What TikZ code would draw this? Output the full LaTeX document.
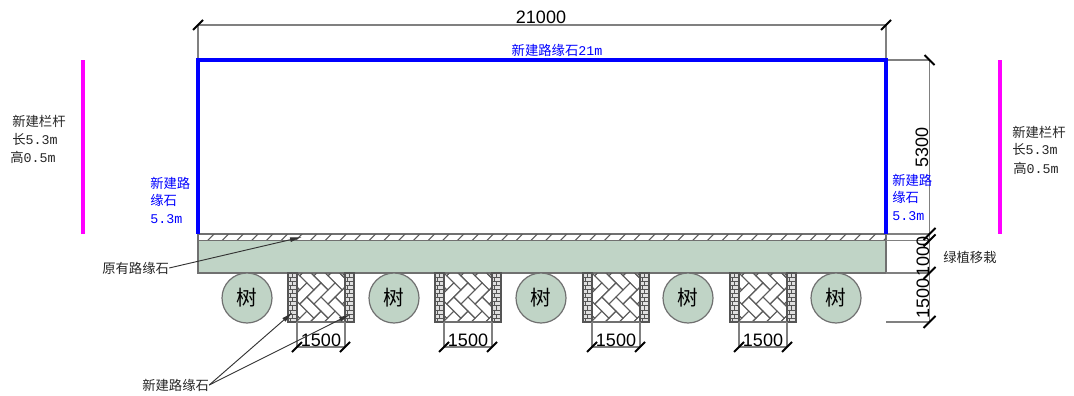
\documentclass[tikz,border=0pt]{standalone}
\usepackage{fontspec}
\setmainfont{Liberation Sans}
\newfontfamily\cjk{Noto Sans CJK SC}
\newfontfamily\lat{Liberation Mono}
\usetikzlibrary{arrows.meta,calc}
\definecolor{plant}{HTML}{C0D4C6}
\definecolor{edge}{HTML}{707070}
\definecolor{ext}{HTML}{808080}
\definecolor{brickc}{HTML}{555555}
\definecolor{railc}{HTML}{FF00FF}
\tikzset{
  x=0.75pt,y=-0.75pt,
  curb/.style={draw=blue,line width=3pt},
  railing/.style={draw=railc,line width=2.6pt},
  dimline/.style={draw=ext,line width=0.8pt},
  tickmark/.style={draw=black,line width=1.5pt},
  dimtext/.style={font=\fontsize{13.5}{14}\selectfont,inner sep=0pt},
  note/.style={font=\cjk\fontsize{10}{13}\selectfont,inner sep=0pt,align=left,text=black!85},
  bluenote/.style={note,text=blue},
  tree/.style={circle,draw=edge,fill=plant,line width=0.9pt,minimum size=37.5pt,inner sep=0pt,font=\cjk\fontsize{15.5}{17}\selectfont},
  leader/.style={draw=black!80,line width=0.7pt,-{Latex[length=9pt,width=3.6pt]}},
}
\newcommand{\paving}[2]{%
  \begin{scope}[shift={(#1,273)}]
    \begin{scope}
      \clip (9,0) rectangle (57,49);
      \begin{scope}[shift={(33,24)},rotate=45]
        \foreach \i in {-6,...,6}{\foreach \k in {-3,...,3}{
          \draw[ext!70!black,line width=0.7pt] ({(\i+4*\k)*10},{\i*10}) rectangle ++(20,10);
          \draw[ext!70!black,line width=0.7pt] ({(\i+4*\k+3)*10},{\i*10}) rectangle ++(10,20);
        }}
      \end{scope}
    \end{scope}
    \foreach \s in {0,57}{
      \begin{scope}[shift={(\s,0)}]
        \fill[black!12] (0,0) rectangle (9,49);
        \foreach \r in {0,...,11}{
          \draw[brickc,line width=0.55pt] (0,{\r*4.1}) -- (9,{\r*4.1});
          \pgfmathsetmacro{\vx}{mod(\r,2)==0 ? 4.5 : 2}
          \draw[brickc,line width=0.55pt] (\vx,{\r*4.1}) -- ++(0,4.1);
        }
        \draw[brickc,line width=0.9pt] (0,0) rectangle (9,49);
      \end{scope}
    }
    \draw[edge,line width=0.9pt] (9,49) -- (57,49);
    \node[inner sep=0pt,minimum size=0pt] (pave#2) at (33,24) {};
    \coordinate (dl#2) at (9,74);
    \coordinate (dr#2) at (57,74);
    \draw[dimline] (9,49) -- (dl#2);
    \draw[dimline] (57,49) -- (dr#2);
    \draw[dimline] (dl#2) -- (dr#2);
    \draw[tickmark] ($(dl#2)+(-5,5)$) -- ($(dl#2)+(5,-5)$);
    \draw[tickmark] ($(dr#2)+(-5,5)$) -- ($(dr#2)+(5,-5)$);
    \node[dimtext] (dimp#2) at (33,67.5) {1500};
  \end{scope}}
\begin{document}
\begin{tikzpicture}
\useasboundingbox (0,0) rectangle (1074,396);
% reference points
\coordinate (tl) at (198,60);
\coordinate (tr) at (886,60);
\coordinate (bl) at (198,234);
\coordinate (br) at (886,234);
\coordinate (dtl) at (198,25);
\coordinate (dtr) at (886,25);
\coordinate (r0) at (929.5,60);
\coordinate (r1) at (929.5,234);
\coordinate (r2) at (929.5,240.5);
\coordinate (r3) at (929.5,273);
\coordinate (r4) at (929.5,322);
% hatched strip and planting strip
\draw[edge,line width=0.9pt,fill=white] (198,234) rectangle (886,240.5);
\begin{scope}
  \clip (198,234) rectangle (886,240.5);
  \foreach \x in {0,...,47}{\draw[edge!80!black,line width=0.8pt] ({207+\x*14.7},241) -- ++(8,-8);}
\end{scope}
\draw[edge,line width=0.9pt,fill=plant] (198,240.5) rectangle (886,273);
% extension lines
\draw[dimline] (tl) -- (dtl);
\draw[dimline] (tr) -- (dtr);
\draw[dimline] (dtl) -- (dtr);
\draw[dimline] (tr) -- (r0);
\draw[dimline] (br) -- (r1);
\coordinate (e2) at (886,240.5);
\coordinate (e3) at (886,273);
\coordinate (e4) at (886,322);
\draw[dimline] (e2) -- (r2);
\draw[dimline] (e3) -- (r3);
\draw[dimline] (e4) -- (r4);
\draw[dimline] (r0) -- (r4);
% ticks
\foreach \c in {dtl,dtr}{\draw[tickmark] ($(\c)+(-5,5)$) -- ($(\c)+(5,-5)$);}
\draw[tickmark] ($(r0)+(-5,-5)$) -- ($(r0)+(5,5)$);
\foreach \c in {r1,r2,r3,r4}{\draw[tickmark] ($(\c)+(-6,6)$) -- ($(\c)+(6,-6)$);}
% new curb
\draw[curb,line cap=butt] (bl) -- (tl) -- (tr) -- (br);
% railings
\coordinate (la) at (83,60); \coordinate (lb) at (83,234);
\coordinate (ra) at (1000,60); \coordinate (rb) at (1000,234);
\draw[railing] (la) -- (lb);
\draw[railing] (ra) -- (rb);
% trees
\foreach \x/\n in {247/1,394/2,541/3,688/4,836/5}{
  \node[tree] (tree\n) at (\x,298) {树};
}
% paved blocks
\paving{288}{1}
\paving{435}{2}
\paving{583}{3}
\paving{730}{4}
% dimension texts
\node[dimtext] (d21000) at (541,17) {21000};
\node[dimtext,rotate=90] (d5300) at (922,147) {5300};
\node[dimtext,rotate=90] (d1000) at (923,256) {1000};
\node[dimtext,rotate=90] (d1500) at (923,298) {1500};
% notes
\node[bluenote] (top) at (557,50) {新建路缘石{\lat 21m}};
\node[bluenote,anchor=north west] (bluel) at (150,177) {新建路\\缘石\\{\lat 5.3m}};
\node[bluenote,anchor=north west] (bluer) at (892,174) {新建路\\缘石\\{\lat 5.3m}};
\node[note,anchor=west] (railA) at (12,121) {新建栏杆};
\node[note,anchor=west] (railB) at (12,139) {长{\lat 5.3m}};
\node[note,anchor=west] (railC) at (10,157) {高{\lat 0.5m}};
\node[note,anchor=west] (railD) at (1012,132) {新建栏杆};
\node[note,anchor=west] (railE) at (1012,149) {长{\lat 5.3m}};
\node[note,anchor=west] (railF) at (1013,168) {高{\lat 0.5m}};
\node[note,anchor=west] (green) at (943,257) {绿植移栽};
\node[note,anchor=west] (old) at (102,268) {原有路缘石};
\node[note,anchor=west] (new) at (142,385) {新建路缘石};
% leaders
\coordinate (oldtip) at (302,237);
\coordinate (newa) at (293,312);
\coordinate (newb) at (351,314);
\draw[leader] (old.east) -- (oldtip);
\draw[leader] (new.east) -- (newa);
\draw[leader] (new.east) -- (newb);
\end{tikzpicture}
\end{document}
